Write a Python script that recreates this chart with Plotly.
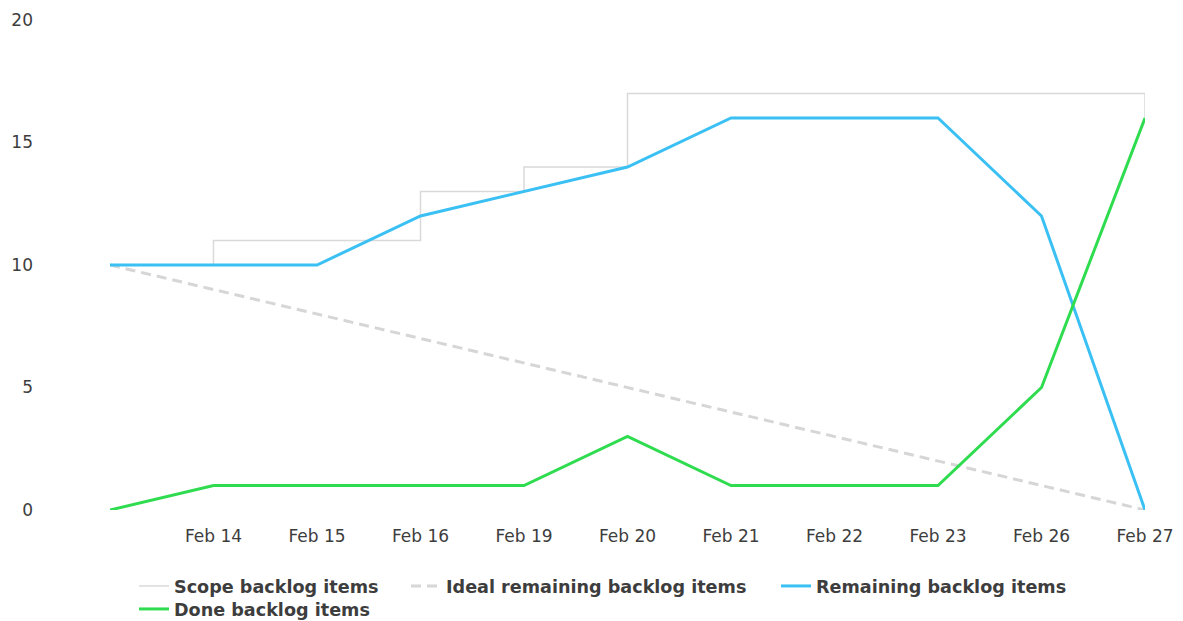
import plotly.graph_objects as go

categories = ["", "Feb 14", "Feb 15", "Feb 16", "Feb 19", "Feb 20", "Feb 21", "Feb 22", "Feb 23", "Feb 26", "Feb 27"]
scope = [10, 11, 11, 13, 14, 17, 17, 17, 17, 17, 16]
ideal = [10, 9, 8, 7, 6, 5, 4, 3, 2, 1, 0]
remaining = [10, 10, 10, 12, 13, 14, 16, 16, 16, 12, 0]
done = [0, 1, 1, 1, 1, 3, 1, 1, 1, 5, 16]

x = list(range(len(categories)))
FONT = "DejaVu Sans"
TXT = "#3d3d3d"
W, H = 1175, 613  # page body has an 8px margin

fig = go.Figure()
fig.add_trace(go.Scatter(x=x, y=scope, name="Scope backlog items", mode="lines",
                         line=dict(color="#d9d9d9", width=1.5, shape="hv"), legend="legend2", cliponaxis=False))
fig.add_trace(go.Scatter(x=x, y=ideal, name="Ideal remaining backlog items", mode="lines",
                         line=dict(color="#d6d6d6", width=3, dash="10px,6px"), legend="legend3", cliponaxis=False))
fig.add_trace(go.Scatter(x=x, y=remaining, name="Remaining backlog items", mode="lines",
                         line=dict(color="#3bc0f4", width=3), legend="legend4", cliponaxis=False))
fig.add_trace(go.Scatter(x=x, y=done, name="Done backlog items", mode="lines",
                         line=dict(color="#2fdc4f", width=3), legend="legend5", cliponaxis=False))

def leg(xpx, ypx):
    # xpx, ypx in window pixels
    return dict(x=(xpx - 8) / W, y=1 - (ypx - 8) / H, xref="container", yref="container",
                xanchor="left", yanchor="middle", orientation="h",
                font=dict(family=FONT, size=17.6, color=TXT, weight="bold"),
                bgcolor="rgba(0,0,0,0)", itemwidth=30)

fig.update_layout(
    width=W, height=H,
    margin=dict(l=102, r=W - 1137, t=12, b=H - 502, autoexpand=False),
    plot_bgcolor="white", paper_bgcolor="white",
    font=dict(family=FONT, size=17, color=TXT),
    showlegend=True,
    xaxis=dict(range=[0, 10], tickmode="array", tickvals=x, ticktext=categories,
               showgrid=False, zeroline=False, showline=False, ticks="", automargin=False,
               ticklabelstandoff=14, tickfont=dict(size=17, color=TXT)),
    yaxis=dict(range=[0, 20], tickvals=[0, 5, 10, 15, 20], showgrid=False, zeroline=False,
               showline=False, ticks="", automargin=False,
               ticklabelstandoff=76, tickfont=dict(size=17, color=TXT)),
    legend2=leg(134, 586),
    legend3=leg(406, 586),
    legend4=leg(776, 586),
    legend5=leg(134, 609),
)

fig.write_html("out.html")
